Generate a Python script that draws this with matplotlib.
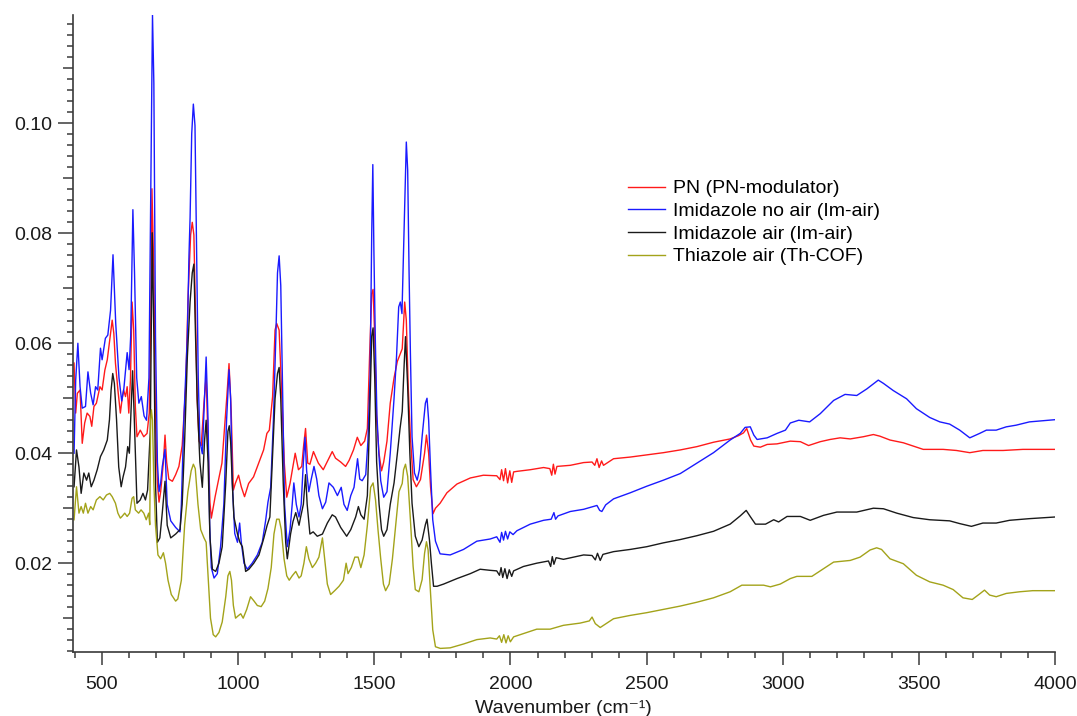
import numpy as np
import matplotlib.pyplot as plt
from matplotlib.ticker import MultipleLocator, FuncFormatter

plt.rcParams['font.family'] = ['Liberation Sans', 'DejaVu Sans']

# FTIR spectra, (wavenumber cm-1, absorbance)
pn = np.array([
    (398, 0.0564), (404, 0.0473), (410, 0.0509), (420, 0.0515), (428, 0.0418), (437, 0.0455),
    (446, 0.0473), (456, 0.0467), (463, 0.0449), (471, 0.0485), (480, 0.0491), (493, 0.0521),
    (501, 0.0515), (511, 0.0551), (520, 0.0570), (529, 0.0606), (538, 0.0642), (544, 0.0618),
    (550, 0.0564), (559, 0.0515), (568, 0.0473), (574, 0.0497), (580, 0.0515), (587, 0.0503),
    (593, 0.0521), (599, 0.0473), (605, 0.0533), (611, 0.0675), (617, 0.0624), (623, 0.0485),
    (629, 0.0430), (641, 0.0442), (654, 0.0430), (666, 0.0436), (674, 0.0473), (680, 0.0654),
    (684, 0.0881), (691, 0.0728), (697, 0.0460), (704, 0.0346), (710, 0.0311), (716, 0.0330),
    (726, 0.0384), (732, 0.0433), (738, 0.0384), (746, 0.0353), (759, 0.0349), (771, 0.0361),
    (783, 0.0376), (795, 0.0414), (808, 0.0522), (817, 0.0690), (826, 0.0797), (832, 0.0820),
    (838, 0.0797), (844, 0.0652), (850, 0.0499), (857, 0.0422), (865, 0.0414), (875, 0.0491),
    (883, 0.0540), (890, 0.0420), (897, 0.0310), (902, 0.0282), (916, 0.0321), (941, 0.0382),
    (959, 0.0503), (967, 0.0563), (975, 0.0476), (983, 0.0333), (990, 0.0345), (1002, 0.0360),
    (1012, 0.0339), (1024, 0.0321), (1039, 0.0345), (1057, 0.0357), (1076, 0.0382), (1094, 0.0406),
    (1106, 0.0436), (1115, 0.0442), (1127, 0.0503), (1136, 0.0624), (1142, 0.0636), (1151, 0.0624),
    (1161, 0.0503), (1170, 0.0382), (1179, 0.0320), (1191, 0.0345), (1210, 0.0400), (1222, 0.0370),
    (1234, 0.0376), (1241, 0.0414), (1248, 0.0445), (1256, 0.0382), (1264, 0.0380), (1277, 0.0403),
    (1295, 0.0382), (1313, 0.0370), (1334, 0.0391), (1346, 0.0403), (1358, 0.0391), (1377, 0.0384),
    (1395, 0.0376), (1408, 0.0387), (1424, 0.0406), (1438, 0.0429), (1451, 0.0414), (1465, 0.0422),
    (1475, 0.0445), (1483, 0.0575), (1491, 0.0690), (1496, 0.0698), (1502, 0.0613), (1509, 0.0460),
    (1518, 0.0399), (1527, 0.0368), (1535, 0.0384), (1547, 0.0422), (1559, 0.0491), (1573, 0.0537),
    (1585, 0.0567), (1595, 0.0580), (1603, 0.0590), (1612, 0.0675), (1618, 0.0642), (1625, 0.0521),
    (1633, 0.0430), (1643, 0.0352), (1655, 0.0339), (1670, 0.0352), (1685, 0.0400), (1692, 0.0433),
    (1700, 0.0400), (1707, 0.0339), (1716, 0.0290), (1725, 0.0300), (1742, 0.0309), (1767, 0.0328),
    (1804, 0.0344), (1853, 0.0355), (1901, 0.0360), (1950, 0.0359), (1962, 0.0352), (1968, 0.0370),
    (1975, 0.0350), (1982, 0.0372), (1990, 0.0346), (1998, 0.0368), (2005, 0.0347), (2012, 0.0366),
    (2024, 0.0367), (2073, 0.0370), (2122, 0.0374), (2145, 0.0372), (2152, 0.0360), (2158, 0.0380),
    (2164, 0.0362), (2171, 0.0376), (2220, 0.0378), (2269, 0.0383), (2300, 0.0384), (2310, 0.0378),
    (2318, 0.0390), (2326, 0.0374), (2335, 0.0386), (2342, 0.0378), (2379, 0.0390), (2440, 0.0393),
    (2501, 0.0397), (2562, 0.0401), (2624, 0.0406), (2685, 0.0412), (2746, 0.0420), (2807, 0.0426),
    (2838, 0.0432), (2856, 0.0437), (2868, 0.0445), (2882, 0.0424), (2894, 0.0413), (2918, 0.0411),
    (2943, 0.0416), (2979, 0.0417), (3028, 0.0422), (3065, 0.0421), (3095, 0.0414), (3138, 0.0421),
    (3174, 0.0425), (3211, 0.0428), (3248, 0.0426), (3296, 0.0430), (3333, 0.0434), (3357, 0.0431),
    (3394, 0.0424), (3443, 0.0419), (3491, 0.0411), (3516, 0.0407), (3589, 0.0407), (3638, 0.0405),
    (3687, 0.0401), (3735, 0.0405), (3809, 0.0405), (3882, 0.0407), (4000, 0.0407),
])

im_noair = np.array([
    (398, 0.0400), (404, 0.0533), (412, 0.0600), (420, 0.0521), (428, 0.0482), (440, 0.0485),
    (449, 0.0548), (459, 0.0509), (468, 0.0488), (477, 0.0521), (485, 0.0515), (495, 0.0591),
    (501, 0.0570), (513, 0.0609), (522, 0.0615), (532, 0.0660), (541, 0.0761), (551, 0.0636),
    (563, 0.0537), (573, 0.0495), (581, 0.0518), (593, 0.0583), (600, 0.0552), (606, 0.0613),
    (614, 0.0843), (620, 0.0728), (628, 0.0537), (636, 0.0491), (645, 0.0503), (655, 0.0468),
    (664, 0.0460), (673, 0.0537), (682, 0.0996), (686, 0.1197), (691, 0.1073), (697, 0.0613),
    (704, 0.0384), (710, 0.0330), (716, 0.0346), (722, 0.0376), (732, 0.0407), (740, 0.0307),
    (753, 0.0277), (771, 0.0265), (787, 0.0257), (792, 0.0307), (801, 0.0460), (814, 0.0613),
    (820, 0.0760), (824, 0.0828), (830, 0.0981), (836, 0.1035), (842, 0.0996), (848, 0.0767),
    (854, 0.0537), (860, 0.0422), (869, 0.0399), (877, 0.0499), (883, 0.0575), (890, 0.0460),
    (896, 0.0269), (902, 0.0192), (912, 0.0173), (924, 0.0181), (936, 0.0230), (948, 0.0307),
    (958, 0.0460), (967, 0.0552), (973, 0.0499), (979, 0.0346), (988, 0.0254), (998, 0.0238),
    (1006, 0.0273), (1012, 0.0238), (1022, 0.0200), (1034, 0.0189), (1052, 0.0200), (1071, 0.0215),
    (1089, 0.0238), (1101, 0.0276), (1110, 0.0311), (1120, 0.0338), (1130, 0.0460), (1139, 0.0613),
    (1145, 0.0728), (1151, 0.0759), (1157, 0.0705), (1163, 0.0537), (1171, 0.0307), (1181, 0.0230),
    (1191, 0.0261), (1199, 0.0307), (1205, 0.0346), (1214, 0.0307), (1224, 0.0284), (1232, 0.0307),
    (1240, 0.0384), (1246, 0.0429), (1252, 0.0368), (1260, 0.0330), (1269, 0.0353), (1279, 0.0376),
    (1289, 0.0353), (1297, 0.0323), (1310, 0.0299), (1322, 0.0311), (1334, 0.0346), (1350, 0.0338),
    (1365, 0.0323), (1379, 0.0338), (1389, 0.0307), (1401, 0.0296), (1414, 0.0323), (1426, 0.0338),
    (1439, 0.0390), (1447, 0.0353), (1456, 0.0350), (1469, 0.0361), (1477, 0.0422), (1485, 0.0537),
    (1491, 0.0800), (1495, 0.0925), (1499, 0.0767), (1504, 0.0611), (1510, 0.0470), (1517, 0.0400),
    (1524, 0.0350), (1535, 0.0320), (1547, 0.0330), (1559, 0.0400), (1573, 0.0500), (1582, 0.0575),
    (1590, 0.0666), (1596, 0.0675), (1602, 0.0654), (1609, 0.0794), (1615, 0.0915), (1618, 0.0966),
    (1623, 0.0915), (1628, 0.0733), (1633, 0.0582), (1639, 0.0430), (1648, 0.0364), (1658, 0.0351),
    (1666, 0.0370), (1676, 0.0430), (1688, 0.0491), (1694, 0.0500), (1700, 0.0460), (1707, 0.0370),
    (1715, 0.0279), (1725, 0.0240), (1742, 0.0217), (1779, 0.0215), (1828, 0.0225), (1877, 0.0240),
    (1926, 0.0244), (1950, 0.0248), (1962, 0.0238), (1968, 0.0256), (1975, 0.0242), (1982, 0.0258),
    (1990, 0.0244), (1998, 0.0257), (2010, 0.0252), (2024, 0.0259), (2073, 0.0271), (2122, 0.0278),
    (2150, 0.0280), (2160, 0.0292), (2166, 0.0280), (2175, 0.0286), (2220, 0.0294), (2269, 0.0298),
    (2318, 0.0305), (2328, 0.0296), (2336, 0.0294), (2350, 0.0306), (2379, 0.0317), (2440, 0.0328),
    (2501, 0.0340), (2562, 0.0351), (2624, 0.0363), (2685, 0.0382), (2746, 0.0401), (2807, 0.0424),
    (2844, 0.0436), (2862, 0.0447), (2881, 0.0448), (2894, 0.0433), (2906, 0.0425), (2943, 0.0428),
    (2979, 0.0436), (3010, 0.0442), (3028, 0.0455), (3059, 0.0460), (3099, 0.0457), (3138, 0.0472),
    (3187, 0.0496), (3229, 0.0507), (3272, 0.0505), (3309, 0.0517), (3351, 0.0533), (3370, 0.0527),
    (3406, 0.0514), (3455, 0.0499), (3491, 0.0481), (3540, 0.0465), (3577, 0.0457), (3613, 0.0453),
    (3650, 0.0442), (3687, 0.0428), (3723, 0.0436), (3748, 0.0442), (3784, 0.0442), (3821, 0.0448),
    (3857, 0.0451), (3906, 0.0457), (3955, 0.0459), (4000, 0.0461),
])

im_air = np.array([
    (398, 0.0339), (407, 0.0406), (416, 0.0375), (424, 0.0327), (434, 0.0364), (444, 0.0351),
    (452, 0.0364), (461, 0.0339), (471, 0.0351), (483, 0.0370), (495, 0.0394), (507, 0.0406),
    (520, 0.0424), (528, 0.0461), (534, 0.0515), (540, 0.0545), (546, 0.0527), (554, 0.0461),
    (562, 0.0375), (571, 0.0339), (578, 0.0357), (587, 0.0375), (595, 0.0412), (601, 0.0400),
    (609, 0.0500), (613, 0.0550), (618, 0.0480), (623, 0.0400), (629, 0.0309), (641, 0.0315),
    (651, 0.0327), (660, 0.0315), (668, 0.0333), (678, 0.0442), (685, 0.0801), (691, 0.0613),
    (697, 0.0346), (704, 0.0238), (713, 0.0246), (722, 0.0292), (732, 0.0349), (740, 0.0269),
    (753, 0.0246), (771, 0.0253), (787, 0.0261), (795, 0.0307), (804, 0.0422), (814, 0.0575),
    (824, 0.0675), (832, 0.0728), (838, 0.0744), (844, 0.0613), (850, 0.0499), (860, 0.0384),
    (869, 0.0338), (877, 0.0422), (883, 0.0460), (890, 0.0384), (897, 0.0246), (906, 0.0189),
    (918, 0.0185), (930, 0.0200), (942, 0.0230), (955, 0.0346), (963, 0.0440), (968, 0.0450),
    (973, 0.0420), (979, 0.0346), (985, 0.0284), (998, 0.0253), (1007, 0.0238), (1016, 0.0230),
    (1028, 0.0185), (1040, 0.0189), (1058, 0.0200), (1077, 0.0215), (1095, 0.0246), (1107, 0.0269),
    (1117, 0.0284), (1126, 0.0384), (1136, 0.0499), (1145, 0.0545), (1151, 0.0556), (1157, 0.0499),
    (1166, 0.0346), (1175, 0.0238), (1181, 0.0208), (1193, 0.0253), (1202, 0.0276), (1212, 0.0292),
    (1224, 0.0269), (1230, 0.0284), (1240, 0.0307), (1248, 0.0361), (1254, 0.0307), (1264, 0.0253),
    (1276, 0.0257), (1291, 0.0249), (1310, 0.0253), (1328, 0.0273), (1346, 0.0288), (1358, 0.0284),
    (1377, 0.0265), (1399, 0.0249), (1414, 0.0261), (1432, 0.0284), (1442, 0.0303), (1451, 0.0288),
    (1463, 0.0280), (1475, 0.0323), (1483, 0.0460), (1491, 0.0613), (1496, 0.0628), (1502, 0.0537),
    (1509, 0.0384), (1518, 0.0307), (1527, 0.0261), (1535, 0.0249), (1547, 0.0261), (1559, 0.0307),
    (1573, 0.0346), (1585, 0.0399), (1595, 0.0445), (1603, 0.0476), (1610, 0.0560), (1615, 0.0612),
    (1623, 0.0521), (1631, 0.0400), (1639, 0.0309), (1651, 0.0249), (1664, 0.0230), (1676, 0.0242),
    (1688, 0.0270), (1694, 0.0280), (1703, 0.0242), (1710, 0.0200), (1718, 0.0158), (1731, 0.0158),
    (1755, 0.0162), (1804, 0.0172), (1853, 0.0181), (1889, 0.0189), (1926, 0.0187), (1950, 0.0186),
    (1960, 0.0178), (1966, 0.0192), (1972, 0.0174), (1980, 0.0190), (1988, 0.0172), (1996, 0.0188),
    (2005, 0.0176), (2012, 0.0186), (2048, 0.0194), (2097, 0.0200), (2140, 0.0204), (2148, 0.0194),
    (2154, 0.0212), (2160, 0.0198), (2168, 0.0210), (2195, 0.0207), (2269, 0.0215), (2300, 0.0214),
    (2312, 0.0206), (2320, 0.0218), (2330, 0.0205), (2340, 0.0216), (2379, 0.0221), (2440, 0.0225),
    (2501, 0.0230), (2562, 0.0237), (2624, 0.0243), (2685, 0.0250), (2746, 0.0258), (2807, 0.0271),
    (2844, 0.0286), (2866, 0.0296), (2882, 0.0284), (2900, 0.0271), (2937, 0.0271), (2967, 0.0279),
    (2985, 0.0275), (3016, 0.0285), (3065, 0.0285), (3101, 0.0278), (3150, 0.0287), (3199, 0.0293),
    (3272, 0.0293), (3333, 0.0300), (3370, 0.0299), (3419, 0.0291), (3479, 0.0283), (3540, 0.0279),
    (3613, 0.0277), (3650, 0.0272), (3693, 0.0267), (3735, 0.0273), (3784, 0.0273), (3833, 0.0278),
    (3906, 0.0281), (4000, 0.0284),
])

th_air = np.array([
    (398, 0.0279), (407, 0.0339), (416, 0.0291), (424, 0.0303), (432, 0.0291), (440, 0.0309),
    (449, 0.0291), (459, 0.0303), (468, 0.0297), (480, 0.0315), (493, 0.0321), (505, 0.0315),
    (517, 0.0324), (529, 0.0327), (538, 0.0321), (550, 0.0309), (559, 0.0291), (568, 0.0282),
    (574, 0.0285), (584, 0.0291), (593, 0.0285), (602, 0.0291), (611, 0.0318), (617, 0.0321),
    (623, 0.0297), (635, 0.0291), (644, 0.0297), (654, 0.0291), (663, 0.0279), (672, 0.0291),
    (676, 0.0270), (679, 0.0460), (682, 0.0479), (686, 0.0460), (691, 0.0346), (697, 0.0269),
    (706, 0.0215), (716, 0.0208), (726, 0.0219), (734, 0.0200), (743, 0.0169), (755, 0.0143),
    (771, 0.0131), (779, 0.0135), (792, 0.0169), (804, 0.0269), (816, 0.0330), (828, 0.0368),
    (836, 0.0380), (843, 0.0372), (853, 0.0307), (863, 0.0261), (875, 0.0246), (883, 0.0238),
    (891, 0.0169), (899, 0.0100), (909, 0.0070), (918, 0.0066), (930, 0.0074), (942, 0.0093),
    (955, 0.0139), (963, 0.0177), (970, 0.0185), (976, 0.0169), (983, 0.0123), (991, 0.0100),
    (1000, 0.0104), (1010, 0.0108), (1019, 0.0100), (1032, 0.0116), (1046, 0.0139), (1059, 0.0131),
    (1071, 0.0123), (1085, 0.0121), (1098, 0.0131), (1110, 0.0154), (1122, 0.0192), (1132, 0.0253),
    (1142, 0.0280), (1151, 0.0280), (1159, 0.0261), (1169, 0.0208), (1179, 0.0177), (1188, 0.0169),
    (1199, 0.0177), (1212, 0.0185), (1224, 0.0173), (1232, 0.0177), (1242, 0.0200), (1251, 0.0230),
    (1260, 0.0208), (1273, 0.0192), (1285, 0.0200), (1297, 0.0211), (1310, 0.0246), (1318, 0.0208),
    (1328, 0.0162), (1340, 0.0143), (1355, 0.0150), (1371, 0.0158), (1387, 0.0169), (1397, 0.0200),
    (1404, 0.0181), (1416, 0.0192), (1429, 0.0211), (1441, 0.0211), (1451, 0.0192), (1463, 0.0215),
    (1475, 0.0269), (1487, 0.0338), (1496, 0.0346), (1505, 0.0315), (1514, 0.0261), (1524, 0.0208),
    (1534, 0.0162), (1542, 0.0150), (1555, 0.0162), (1567, 0.0208), (1579, 0.0269), (1591, 0.0330),
    (1603, 0.0345), (1608, 0.0370), (1615, 0.0380), (1623, 0.0358), (1633, 0.0279), (1643, 0.0194),
    (1651, 0.0152), (1664, 0.0148), (1676, 0.0170), (1685, 0.0218), (1692, 0.0239), (1698, 0.0224),
    (1707, 0.0145), (1715, 0.0079), (1725, 0.0048), (1743, 0.0045), (1779, 0.0046), (1828, 0.0053),
    (1877, 0.0061), (1926, 0.0064), (1950, 0.0062), (1960, 0.0068), (1968, 0.0056), (1976, 0.0070),
    (1984, 0.0055), (1992, 0.0068), (2000, 0.0057), (2012, 0.0066), (2048, 0.0072), (2097, 0.0080),
    (2146, 0.0080), (2195, 0.0087), (2256, 0.0091), (2290, 0.0095), (2300, 0.0102), (2312, 0.0090),
    (2330, 0.0083), (2379, 0.0099), (2440, 0.0105), (2501, 0.0110), (2562, 0.0116), (2624, 0.0122),
    (2685, 0.0129), (2746, 0.0137), (2807, 0.0148), (2850, 0.0160), (2882, 0.0160), (2930, 0.0160),
    (2955, 0.0157), (2991, 0.0162), (3028, 0.0172), (3052, 0.0176), (3107, 0.0176), (3138, 0.0186),
    (3187, 0.0202), (3248, 0.0205), (3284, 0.0211), (3321, 0.0224), (3345, 0.0228), (3363, 0.0225),
    (3394, 0.0208), (3443, 0.0199), (3491, 0.0178), (3540, 0.0166), (3589, 0.0160), (3626, 0.0152),
    (3662, 0.0137), (3696, 0.0134), (3723, 0.0144), (3741, 0.0151), (3760, 0.0142), (3784, 0.0139),
    (3821, 0.0145), (3870, 0.0148), (3918, 0.0150), (4000, 0.0150),
])

labels = ["PN (PN-modulator)", "Imidazole no air (Im-air)",
          "Imidazole air (Im-air)", "Thiazole air (Th-COF)"]
colors = ["#ff1a1a", "#1a1aff", "#1a1a1a", "#a3a31a"]

fig = plt.figure(figsize=(10.77, 7.16), dpi=100)
ax = fig.add_axes([0.0675, 0.0898, 0.9121, 0.8892])

for data, lab, col in zip([pn, im_noair, im_air, th_air], labels, colors):
    ax.plot(data[:, 0], data[:, 1], color=col, lw=1.0, label=lab)

ax.set_xlim(393, 4000)
ax.set_ylim(0.0039, 0.1197)

axcol = "#3a3a3a"
for s in ["top", "right"]:
    ax.spines[s].set_visible(False)
for s in ["left", "bottom"]:
    ax.spines[s].set_color(axcol)
    ax.spines[s].set_linewidth(1.2)

ax.xaxis.set_major_locator(MultipleLocator(500))
ax.xaxis.set_minor_locator(MultipleLocator(100))
ax.yaxis.set_major_locator(MultipleLocator(0.01))
ax.yaxis.set_minor_locator(MultipleLocator(0.002))
# only every other y tick gets a number
ax.yaxis.set_major_formatter(FuncFormatter(
    lambda v, p: "%.2f" % v if round(v * 100) % 2 == 0 else ""))

ax.tick_params(axis="both", which="both", direction="out", color=axcol,
               width=1.1, labelsize=14, labelcolor="#1a1a1a")
ax.tick_params(axis="x", which="major", length=9.5, pad=8)
ax.tick_params(axis="x", which="minor", length=4.3)
ax.tick_params(axis="y", which="major", length=10.5, pad=4)
ax.tick_params(axis="y", which="minor", length=4.3)

# shorter marks at the unlabelled 0.01 steps
fig.canvas.draw()
for t in ax.yaxis.get_major_ticks():
    v = t.get_loc()
    if round(v * 100) % 2 == 1:
        t.tick1line.set_markersize(7.2)

ax.set_xlabel("Wavenumber (cm⁻¹)", fontsize=14, labelpad=5, color="#1a1a1a")

leg = ax.legend(loc="upper left", bbox_to_anchor=(0.583, 0.749),
                bbox_transform=fig.transFigure, frameon=False, fontsize=14,
                handlelength=1.9, handletextpad=0.42, labelspacing=0.26,
                borderpad=0, borderaxespad=0)

fig.savefig("out.png", dpi=100)
